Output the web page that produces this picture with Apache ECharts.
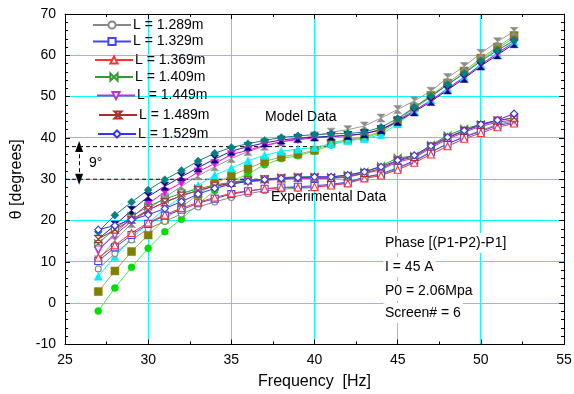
<!DOCTYPE html>
<html>
<head>
<meta charset="utf-8">
<script src="https://cdn.jsdelivr.net/npm/echarts@6.0.0/dist/echarts.min.js"></script>
<style>
html, body { margin: 0; padding: 0; background: #fff; }
#chart { width: 574px; height: 394px; }
</style>
</head>
<body>
<div id="chart"></div>
<script>
// Frequencies of every measured / computed point (Hz)
const freq = [27, 28, 29, 30, 31, 32, 33, 34, 35, 36, 37, 38, 39, 40, 41, 42, 43, 44, 45, 46, 47, 48, 49, 50, 51, 52];

// Experimental phase (degrees), one list per tube length
const exp1289 = [8.3, 12.0, 15.3, 18.0, 19.8, 21.6, 23.3, 24.5, 25.6, 26.5, 27.2, 27.6, 27.8, 28.0, 28.6, 29.1, 30.5, 31.0, 32.6, 34.3, 36.5, 38.6, 40.3, 41.8, 43.3, 44.2];
const exp1329 = [10.2, 13.5, 16.5, 19.2, 21.2, 22.6, 24.2, 25.3, 26.4, 27.1, 27.7, 28.0, 28.2, 28.4, 28.8, 29.3, 30.5, 31.3, 32.8, 34.5, 36.6, 38.6, 40.2, 41.6, 43.0, 43.8];
const exp1369 = [11.0, 14.0, 17.0, 19.5, 21.4, 23.0, 24.4, 25.6, 26.6, 27.2, 27.7, 28.0, 28.0, 28.1, 28.5, 29.0, 30.2, 30.9, 32.3, 34.0, 36.0, 38.0, 39.8, 41.2, 42.6, 43.5];
const exp1409 = [14.5, 18.0, 21.0, 23.4, 25.2, 26.6, 27.7, 28.6, 29.3, 29.8, 30.0, 30.4, 30.6, 30.6, 30.5, 31.0, 31.8, 33.2, 35.2, 35.6, 38.3, 40.6, 42.2, 43.3, 44.2, 44.8];
const exp1449 = [13.0, 16.5, 19.8, 22.5, 24.5, 26.0, 27.3, 28.3, 29.0, 29.4, 29.7, 30.0, 30.2, 30.2, 30.2, 30.5, 31.4, 32.3, 34.2, 35.1, 37.6, 39.7, 41.4, 42.8, 43.8, 44.4];
const exp1489 = [15.5, 17.8, 20.2, 22.6, 24.4, 26.0, 27.3, 28.3, 29.1, 29.7, 30.0, 30.2, 30.4, 30.4, 30.3, 30.7, 31.5, 32.6, 34.5, 35.4, 37.9, 40.0, 41.7, 43.1, 44.2, 44.9];
const exp1529 = [17.8, 18.8, 20.2, 21.4, 22.9, 24.6, 26.4, 27.8, 28.8, 29.5, 29.9, 30.2, 30.4, 30.6, 30.6, 31.0, 31.8, 33.0, 34.6, 35.8, 38.1, 40.2, 41.8, 43.3, 44.3, 45.9];

// Model phase (degrees)
const modelGreen   = [-1.9, 3.7, 8.7, 13.3, 17.3, 20.3, 24.0, 27.3, 29.5, 31.3, 33.5, 35.0, 35.7, 36.8, 38.3, 39.4, 40.0, 41.3, 44.0, 47.1, 49.9, 52.9, 55.8, 58.9, 61.6, 64.3];
const modelOlive   = [2.8, 7.8, 12.5, 16.5, 20.3, 23.3, 26.3, 29.0, 30.9, 32.6, 34.3, 35.4, 36.1, 37.0, 38.8, 39.6, 40.2, 41.6, 44.2, 47.4, 50.3, 53.3, 56.2, 59.3, 62.0, 64.8];
const modelCyan    = [6.5, 11.3, 15.7, 19.4, 22.9, 25.7, 28.5, 31.0, 32.7, 34.5, 35.8, 36.8, 37.3, 37.7, 38.6, 39.3, 39.8, 40.8, 43.4, 46.5, 49.2, 52.0, 54.8, 57.8, 60.6, 63.2];
const modelGray    = [10.5, 15.2, 19.3, 22.7, 25.6, 28.3, 30.8, 33.0, 35.0, 36.7, 38.0, 39.0, 39.8, 40.5, 41.4, 42.0, 42.9, 44.8, 46.9, 49.0, 51.3, 54.6, 57.3, 60.5, 63.3, 65.8];
const modelMagenta = [12.7, 16.9, 20.7, 24.1, 26.9, 29.2, 31.8, 33.8, 36.0, 37.0, 38.2, 39.1, 39.6, 40.0, 40.3, 40.6, 41.0, 42.0, 44.2, 46.6, 49.1, 51.9, 54.7, 57.7, 60.5, 63.2];
const modelNavy    = [15.5, 18.9, 22.5, 25.8, 28.3, 30.6, 32.8, 34.9, 36.8, 37.9, 38.8, 39.5, 39.9, 40.2, 40.4, 40.6, 41.0, 42.0, 44.0, 46.3, 48.8, 51.6, 54.4, 57.4, 60.1, 62.8];
const modelTeal    = [17.3, 21.3, 24.5, 27.4, 29.9, 32.1, 34.4, 36.3, 37.7, 38.6, 39.4, 40.1, 40.5, 40.8, 41.0, 41.1, 41.4, 42.6, 44.7, 47.4, 50.1, 52.9, 55.6, 58.6, 61.2, 63.6];

// Reference levels for the phase-gap marker (Hz, degrees)
const gapUpper = [[25, 37.9], [41, 37.9]];
const gapLower = [[25, 30.0], [37, 30.0]];
const gapArrowFreq = 25.85;

// Axis ranges and grid-line positions
const xTicks = { min: 25, max: 55, step: 5 };
const yTicks = { min: -10, max: 70, step: 10 };
const xGridValues = [30, 35, 40, 45, 50];
const yGridValues = [0, 10, 20, 30, 40, 50, 60];

const FONT = '"Liberation Sans", Arial, sans-serif';

const SYM = {
  circle: 'circle',
  square: 'rect',
  triangle: 'triangle',
  diamond: 'diamond',
  down: 'path://M0,0L10,0L5,9Z',
  bowtie: 'path://M0,0L5,5L0,10ZM10,0L5,5L10,10Z',
  hourglass: 'path://M0,0L10,0L5,5L10,10L0,10L5,5Z'
};

function pts(values) {
  return freq.map((f, i) => [f, values[i]]);
}

function expSeries(name, values, color, symbol, size) {
  return {
    name: name, type: 'line', data: pts(values),
    symbol: SYM[symbol], symbolSize: size || 7, z: 4,
    lineStyle: { color: color, width: 1 },
    itemStyle: { color: '#fff', borderColor: color, borderWidth: 1.1 },
    emphasis: { disabled: true }, animation: false
  };
}

function modelSeries(name, values, lineColor, fillColor, symbol, size) {
  return {
    name: name, type: 'line', data: pts(values),
    symbol: SYM[symbol], symbolSize: size || 7, z: 3,
    lineStyle: { color: lineColor, width: 1 },
    itemStyle: { color: fillColor, borderColor: fillColor, borderWidth: 0.5 },
    emphasis: { disabled: true }, animation: false
  };
}

const expNames = ['L = 1.289m', 'L = 1.329m', 'L = 1.369m', 'L = 1.409m', 'L = 1.449m', 'L = 1.489m', 'L = 1.529m'];
const legendLeft = [92, 92, 94, 94, 96, 98, 97];
const legendMid = [26, 42.5, 61, 78, 96.5, 116, 135];

const series = [
  modelSeries('model green', modelGreen, '#44ee44', '#00dd00', 'circle', 7),
  modelSeries('model olive', modelOlive, '#b8a060', '#808000', 'square', 8),
  modelSeries('model cyan', modelCyan, '#00ffff', '#00eeff', 'triangle', 8),
  modelSeries('model gray', modelGray, '#999999', '#8c8c8c', 'hourglass', 8),
  modelSeries('model magenta', modelMagenta, '#ff00ff', '#ff00ff', 'down', 8),
  modelSeries('model navy', modelNavy, '#2020a0', '#000080', 'hourglass', 8),
  modelSeries('model teal', modelTeal, '#108080', '#008080', 'diamond', 8),
  expSeries(expNames[0], exp1289, '#888888', 'circle', 6),
  expSeries(expNames[1], exp1329, '#4444ff', 'square', 7),
  expSeries(expNames[2], exp1369, '#ff3333', 'triangle', 7),
  expSeries(expNames[3], exp1409, '#339933', 'bowtie', 7),
  expSeries(expNames[4], exp1449, '#bb33cc', 'down', 7),
  expSeries(expNames[5], exp1489, '#aa3030', 'hourglass', 7),
  expSeries(expNames[6], exp1529, '#3333ff', 'diamond', 7),
  {
    name: 'gap upper', type: 'line', data: gapUpper, symbol: 'none', z: 2,
    lineStyle: { color: '#000', width: 1, type: [4, 3] }, animation: false, silent: true
  },
  {
    name: 'gap lower', type: 'line', data: gapLower, symbol: 'none', z: 2,
    lineStyle: { color: '#000', width: 1, type: [4, 3] }, animation: false, silent: true,
    markLine: {
      silent: true, animation: false,
      symbol: ['triangle', 'triangle'], symbolSize: [8, 11],
      label: { show: false },
      lineStyle: { color: '#000', width: 1, type: [4, 3] },
      data: [[{ coord: [gapArrowFreq, 30.0] }, { coord: [gapArrowFreq, 37.9] }]]
    }
  }
];

const legends = expNames.map((n, i) => ({
  data: [n],
  left: legendLeft[i],
  top: legendMid[i] - 8,
  padding: 0,
  itemWidth: 38,
  itemHeight: 9,
  selectedMode: false,
  textStyle: { fontSize: 14, fontFamily: FONT, color: '#000', padding: [0, 0, 0, -3] }
}));

const axisCommon = {
  type: 'value',
  axisLine: { show: true, onZero: false, lineStyle: { color: '#000', width: 1 } },
  axisTick: { show: true, inside: true, length: 5, lineStyle: { color: '#000' } },
  minorTick: { show: true, length: 3, lineStyle: { color: '#000' } },
  splitLine: { show: false },
  minorSplitLine: { show: false }
};

const textItems = [
  { type: 'text', left: 265, top: 110, z: 10, style: { text: 'Model Data', font: '14px ' + FONT, fill: '#000' } },
  { type: 'text', left: 271, top: 190, z: 10, style: { text: 'Experimental Data', font: '14px ' + FONT, fill: '#000' } },
  { type: 'text', left: 89, top: 156, z: 10, style: { text: '9°', font: '14px ' + FONT, fill: '#000', backgroundColor: '#fff' } },
  { type: 'text', left: 383, top: 233, z: 10, style: { text: 'Phase [(P1-P2)-P1]', font: '14px ' + FONT, fill: '#000', backgroundColor: '#fff', padding: [3, 2] } },
  { type: 'text', left: 383, top: 257, z: 10, style: { text: 'I = 45 A', font: '14px ' + FONT, fill: '#000', backgroundColor: '#fff', padding: [3, 2] } },
  { type: 'text', left: 383, top: 281, z: 10, style: { text: 'P0 = 2.06Mpa', font: '14px ' + FONT, fill: '#000', backgroundColor: '#fff', padding: [3, 2] } },
  { type: 'text', left: 383, top: 303, z: 10, style: { text: 'Screen# = 6', font: '14px ' + FONT, fill: '#000', backgroundColor: '#fff', padding: [3, 2] } }
];

const chart = echarts.init(document.getElementById('chart'), null, { renderer: 'canvas' });

chart.setOption({
  backgroundColor: '#fff',
  animation: false,
  grid: { left: 65, right: 10, top: 14, bottom: 49.5, containLabel: false, outerBoundsMode: 'none' },
  legend: legends,
  xAxis: [
    Object.assign({}, axisCommon, {
      position: 'bottom',
      min: xTicks.min, max: xTicks.max, interval: xTicks.step,
      minorTick: Object.assign({}, axisCommon.minorTick, { splitNumber: 2 }),
      axisLabel: { fontSize: 14, fontFamily: FONT, color: '#000', margin: 9, showMinLabel: true, showMaxLabel: true },
      name: 'Frequency  [Hz]', nameLocation: 'middle', nameGap: 29,
      nameTextStyle: { fontSize: 16, fontFamily: FONT, color: '#000' }
    }),
    Object.assign({}, axisCommon, {
      position: 'top',
      min: xTicks.min, max: xTicks.max, interval: xTicks.step,
      minorTick: Object.assign({}, axisCommon.minorTick, { splitNumber: 2 }),
      axisLabel: { show: false }
    })
  ],
  yAxis: [
    Object.assign({}, axisCommon, {
      position: 'left',
      min: yTicks.min, max: yTicks.max, interval: yTicks.step,
      minorTick: Object.assign({}, axisCommon.minorTick, { splitNumber: 5 }),
      axisLabel: { fontSize: 14, fontFamily: FONT, color: '#000', margin: 9, showMinLabel: true, showMaxLabel: true },
      name: 'θ [degrees]', nameLocation: 'middle', nameGap: 38, nameRotate: 90,
      nameTextStyle: { fontSize: 16, fontFamily: FONT, color: '#000' }
    }),
    Object.assign({}, axisCommon, {
      position: 'right',
      min: yTicks.min, max: yTicks.max, interval: yTicks.step,
      minorTick: Object.assign({}, axisCommon.minorTick, { splitNumber: 5 }),
      axisLabel: { show: false }
    })
  ],
  series: series,
  graphic: textItems
});

// Crisp cyan grid lines, snapped to pixel centres, placed through the axis scales
function crisp(v) { return Math.round(v - 0.5) + 0.5; }
const xLeft = chart.convertToPixel({ xAxisIndex: 0 }, xTicks.min);
const xRight = chart.convertToPixel({ xAxisIndex: 0 }, xTicks.max);
const yTop = chart.convertToPixel({ yAxisIndex: 0 }, yTicks.max);
const yBottom = chart.convertToPixel({ yAxisIndex: 0 }, yTicks.min);
const gridLines = [];
xGridValues.forEach(v => {
  const x = crisp(chart.convertToPixel({ xAxisIndex: 0 }, v));
  gridLines.push({ type: 'line', silent: true, z: -10, shape: { x1: x, y1: yTop, x2: x, y2: yBottom }, style: { stroke: '#00ffff', lineWidth: 1 } });
});
yGridValues.forEach(v => {
  const y = crisp(chart.convertToPixel({ yAxisIndex: 0 }, v));
  gridLines.push({ type: 'line', silent: true, z: -10, shape: { x1: xLeft, y1: y, x2: xRight, y2: y }, style: { stroke: '#00ffff', lineWidth: 1 } });
});
chart.setOption({ graphic: textItems.concat(gridLines) });
</script>
</body>
</html>
